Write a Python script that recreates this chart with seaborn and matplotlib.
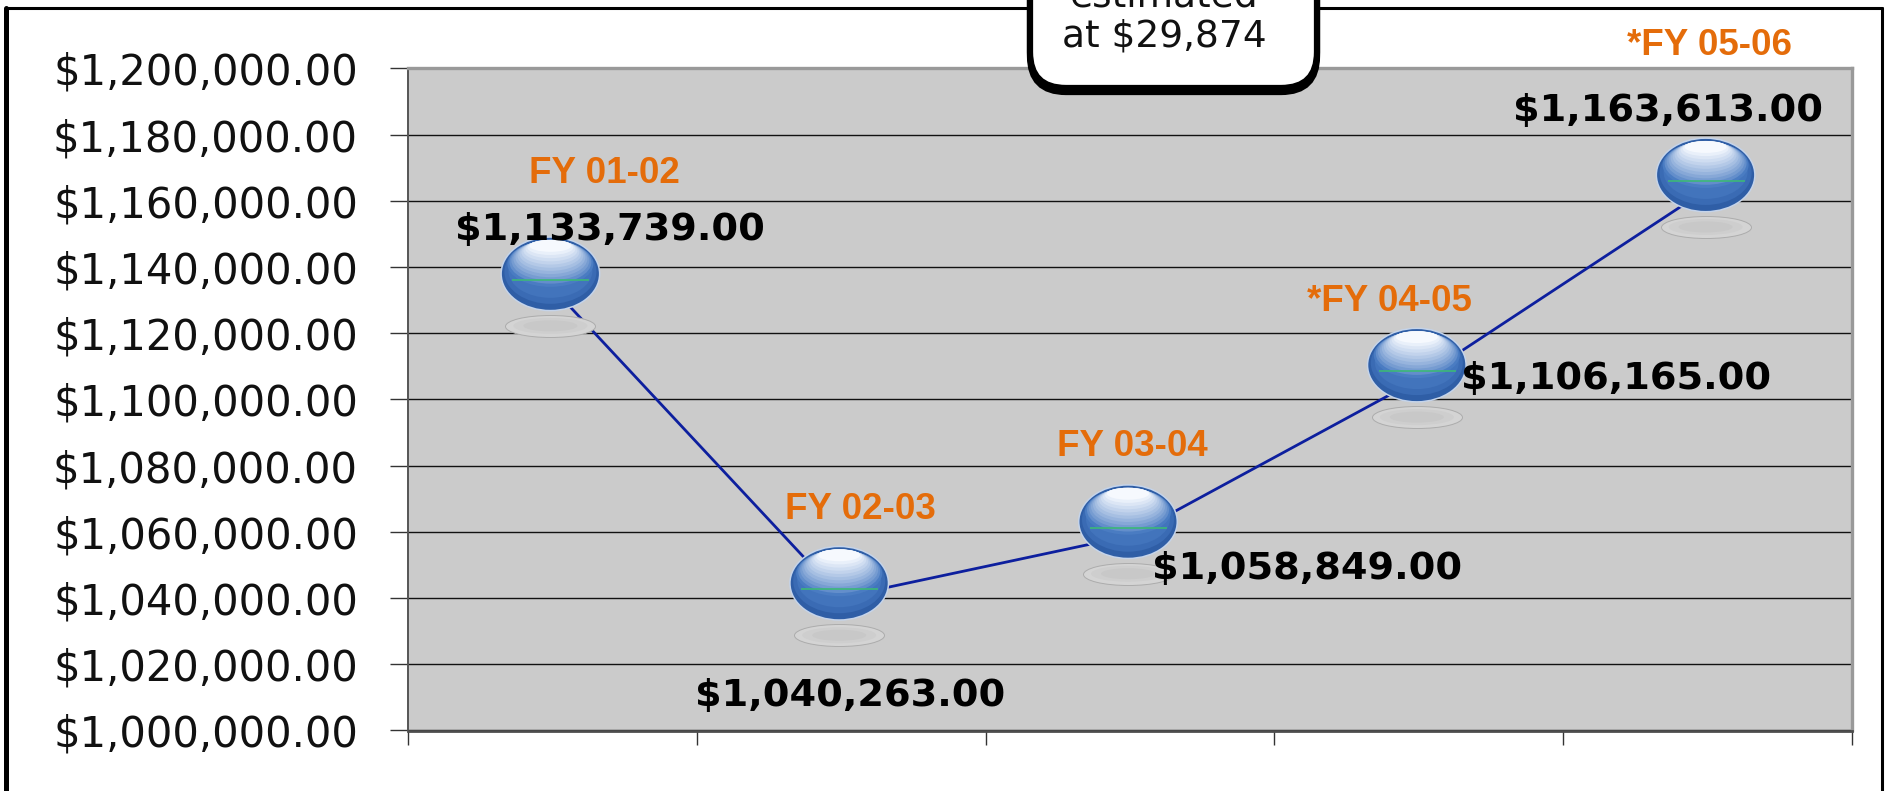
import numpy as np
import pandas as pd
import matplotlib
matplotlib.use("Agg")
import matplotlib.pyplot as plt
import seaborn as sns
from matplotlib.path import Path
from matplotlib.markers import MarkerStyle
from matplotlib.transforms import Affine2D, ScaledTranslation
from matplotlib.patches import FancyBboxPatch
from matplotlib.lines import Line2D
from matplotlib.colors import to_rgb

# ---------------- data ----------------
categories = ["FY 01-02", "FY 02-03", "FY 03-04", "*FY 04-05", "*FY 05-06"]
values = [1133739, 1040263, 1058849, 1106165, 1163613]
value_labels = ["$1,133,739.00", "$1,040,263.00", "$1,058,849.00", "$1,106,165.00", "$1,163,613.00"]
y_ticks = [1000000, 1020000, 1040000, 1060000, 1080000, 1100000,
           1120000, 1140000, 1160000, 1180000, 1200000]
callout_text = "estimated\nat $29,874"

# label placement (pixel offsets from each point: right, down) -- styling only
cat_label_offsets = [(52, -105), (19, -78), (2, -80), (-29, -68), (2, -134)]
val_label_offsets = [(58, -48), (9, 109), (177, 43), (197, 10), (-40, -68)]

DPI = 100
W, H = 1889, 791

sns.set_style("white")
plt.rcParams["font.family"] = ["DejaVu Sans"]

fig = plt.figure(figsize=(W / DPI, H / DPI), dpi=DPI)
fig.patch.set_facecolor("white")
ax = fig.add_axes([408 / W, 1 - 730.5 / H, (1852 - 408) / W, (730.5 - 68.5) / H])
ax.set_facecolor("#CBCBCB")

df = pd.DataFrame({"x": np.arange(len(categories)), "value": values, "cat": categories})

ax.set_ylim(y_ticks[0], y_ticks[-1])
ax.set_xlim(-0.5, len(categories) - 0.5)
ax.set_yticks(y_ticks)
ax.set_yticklabels([f"${v:,.2f}" for v in y_ticks])
ax.set_xticks(np.arange(-0.5, len(categories), 1.0))
ax.set_xticklabels([])
ax.yaxis.grid(True, color="#111111", linewidth=1.0)
ax.xaxis.grid(False)
ax.set_axisbelow(True)

ax.tick_params(axis="y", direction="out", length=13, width=1.0, color="#333333",
               pad=23, labelsize=30, labelcolor="#111111", left=True)
ax.tick_params(axis="x", direction="out", length=10, width=1.0, color="#333333", bottom=True)

for side, col, lw in [("top", "#999999", 2.4), ("right", "#999999", 2.4),
                      ("left", "#555555", 1.4), ("bottom", "#4d4d4d", 2.0)]:
    ax.spines[side].set_visible(True)
    ax.spines[side].set_color(col)
    ax.spines[side].set_linewidth(lw)

# connecting line
sns.lineplot(data=df, x="x", y="value", ax=ax, color="#0D1F9E", linewidth=2.0,
             zorder=3, legend=False)


def ellipse_marker(aspect):
    p = Affine2D().scale(1, aspect).transform_path(Path.unit_circle())
    return MarkerStyle(p)


def shifted(dx, dy):
    return ax.transData + ScaledTranslation(dx / DPI, -dy / DPI, fig.dpi_scale_trans)


def mix(c1, c2, t):
    a, b = np.array(to_rgb(c1)), np.array(to_rgb(c2))
    return tuple(a + (b - a) * t)


# glossy ball markers: (width px, height px, dx, dy, face, edge, lw)
ball_dx, ball_dy = -2, -14
layers = [
    (90, 22, 0, 52, "#D4D4D4", "#ACACAC", 0.7),
    (74, 16, 0, 52, "#CECECE", "none", 0),
    (54, 11, 0, 52, "#C8C8C8", "none", 0),
    (100, 75, 0, 0, "#C5D4EA", "none", 0),
    (97, 72, 0, 0, "#2F5EA6", "none", 0),
    (92, 64, 0, -2, "#3A6BB4", "none", 0),
    (84, 54, 0, -3, "#4274BC", "none", 0),
]
# smooth top highlight
n = 12
for k in range(n):
    t = k / (n - 1)
    w = 86 - 44 * t
    h = 46 - 34 * t
    dy = -10 - 18 * t
    layers.append((w, h, 0, dy, mix("#4A7CC2", "#F6F9FE", t ** 0.8), "none", 0))

for (w, h, dx, dy, fc, ec, lw) in layers:
    sns.scatterplot(data=df, x="x", y="value", ax=ax, marker=ellipse_marker(h / w),
                    s=(w * 0.72) ** 2, color=fc, edgecolor=ec, linewidth=lw,
                    transform=shifted(ball_dx + dx, ball_dy + dy), zorder=4, legend=False)
# thin green sheen line
sns.scatterplot(data=df, x="x", y="value", ax=ax, marker="_", s=(77 * 0.72) ** 2,
                color="#3CB878", linewidth=1.2, transform=shifted(ball_dx, ball_dy + 6),
                zorder=4, legend=False)
ax.set_xlabel("")
ax.set_ylabel("")

# labels
for i, (cat, val, vl) in enumerate(zip(categories, values, value_labels)):
    cdx, cdy = cat_label_offsets[i]
    vdx, vdy = val_label_offsets[i]
    ax.annotate(cat, xy=(i, val), xytext=(cdx, -cdy), textcoords="offset pixels",
                ha="center", va="baseline", fontsize=26.5, fontweight="bold",
                family=["Liberation Sans", "DejaVu Sans"], color="#E46C0A",
                zorder=6, annotation_clip=False)
    ax.annotate(vl, xy=(i, val), xytext=(vdx, -vdy), textcoords="offset pixels",
                ha="center", va="baseline", fontsize=27.5, fontweight="bold",
                color="#000000", zorder=6, annotation_clip=False)

# outer slide frame
fig.add_artist(Line2D([6, 1882], [H - 8, H - 8], transform=None, color="#000000",
                      linewidth=2.2, zorder=1))
fig.add_artist(Line2D([5.5, 5.5], [0, H - 8], transform=None, color="#000000",
                      linewidth=3.6, zorder=1))
fig.add_artist(Line2D([1882, 1882], [0, H - 8], transform=None, color="#000000",
                      linewidth=2.2, zorder=1))

# callout box (cut off at the top, as in the source slide)
shadow = FancyBboxPatch((1030, H - 92), 1317 - 1030, 200,
                        boxstyle="round,pad=0,rounding_size=36", transform=None,
                        facecolor="#000000", edgecolor="#000000", linewidth=4.5, zorder=8)
box = FancyBboxPatch((1030, H - 88), 1317 - 1030, 200,
                     boxstyle="round,pad=0,rounding_size=36", transform=None,
                     facecolor="white", edgecolor="#000000", linewidth=4.5, zorder=9)
fig.add_artist(shadow)
fig.add_artist(box)
fig.text(1164 / W, 1 - 47 / H, callout_text, ha="center", va="baseline",
         fontsize=27, color="#111111", linespacing=1.17, zorder=10)

fig.savefig("out.png", dpi=DPI, facecolor="white")
